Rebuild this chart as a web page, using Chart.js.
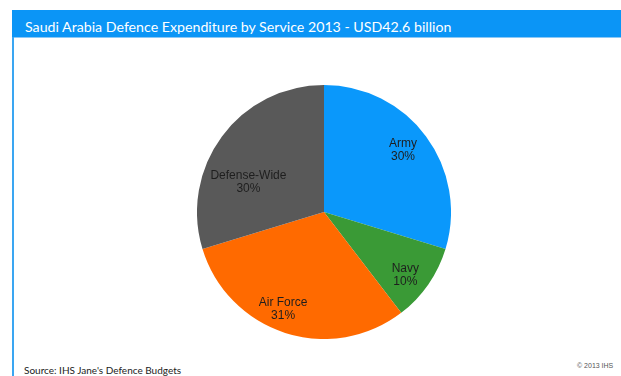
<!DOCTYPE html>
<html>
<head>
<meta charset="utf-8">
<script src="https://cdn.jsdelivr.net/npm/chart.js@4/dist/chart.umd.min.js"></script>
<style>
  html, body { margin: 0; padding: 0; background: #ffffff; }
  #page { position: relative; width: 621px; height: 376px; overflow: hidden; background: #ffffff; }
  #titlebar {
    position: absolute; left: 12px; top: 10px; width: 609px; height: 27px;
    background: #0b95f6; border-bottom: 1px solid #8cc8f5;
  }
  #title {
    position: absolute; left: 13px; top: 8px; color: #ffffff; line-height: 17px;
    font-family: Lato, "Open Sans", sans-serif; font-size: 14.2px; white-space: nowrap;
  }
  #leftrule { position: absolute; left: 12px; top: 37px; width: 2px; height: 339px; background: #3aa6f2; }
  #source {
    position: absolute; left: 24px; top: 364px; color: #222222;
    font-family: Lato, "Open Sans", sans-serif; font-size: 10px; white-space: nowrap;
  }
  #copy {
    position: absolute; left: 577px; top: 362px; color: #555555;
    font-family: "Liberation Sans", Arial, sans-serif; font-size: 7px; white-space: nowrap;
  }
  #pie { position: absolute; left: 197px; top: 85px; width: 254px; height: 254px; }
</style>
</head>
<body>
<div id="page">
  <div id="titlebar"><div id="title">Saudi Arabia Defence Expenditure by Service 2013 - USD42.6 billion</div></div>
  <div id="leftrule"></div>
  <div id="pie"><canvas id="c" width="254" height="254"></canvas></div>
  <div id="source">Source: IHS Jane's Defence Budgets</div>
  <div id="copy">© 2013 IHS</div>
</div>
<script>
// Share of the 2013 budget by service, in percent
const services = ['Army', 'Navy', 'Air Force', 'Defense-Wide'];
const shares = [30, 10, 31, 30];
const sliceColors = ['#0a98fb', '#3a9a36', '#ff6a00', '#595959'];

// Per-slice label placement: shift of the angle (degrees) and distance as a share of the radius
const labelPlacement = [
  { turn: -1.5, dist: 0.79 },
  { turn: 3, dist: 0.81 },
  { turn: 5, dist: 0.83 },
  { turn: -15, dist: 0.64 }
];

const sliceLabels = {
  id: 'sliceLabels',
  afterDatasetsDraw(chart) {
    const ctx = chart.ctx;
    const meta = chart.getDatasetMeta(0);
    ctx.save();
    ctx.font = '12px "Liberation Sans", Arial, sans-serif';
    ctx.fillStyle = '#1e1e1e';
    ctx.textAlign = 'center';
    ctx.textBaseline = 'middle';
    meta.data.forEach((arc, i) => {
      const p = arc.getProps(['x', 'y', 'startAngle', 'endAngle', 'outerRadius'], true);
      const place = labelPlacement[i];
      const a = (p.startAngle + p.endAngle) / 2 + place.turn * Math.PI / 180;
      const r = p.outerRadius * place.dist;
      const x = p.x + Math.cos(a) * r;
      const y = p.y + Math.sin(a) * r;
      ctx.fillText(chart.data.labels[i], x, y - 6.5);
      ctx.fillText(chart.data.datasets[0].data[i] + '%', x, y + 6.5);
    });
    ctx.restore();
  }
};

new Chart(document.getElementById('c'), {
  type: 'pie',
  data: {
    labels: services,
    datasets: [{
      data: shares,
      backgroundColor: sliceColors,
      borderWidth: 0
    }]
  },
  options: {
    responsive: false,
    animation: false,
    layout: { padding: 0 },
    plugins: { legend: { display: false }, tooltip: { enabled: false } }
  },
  plugins: [sliceLabels]
});
</script>
</body>
</html>
